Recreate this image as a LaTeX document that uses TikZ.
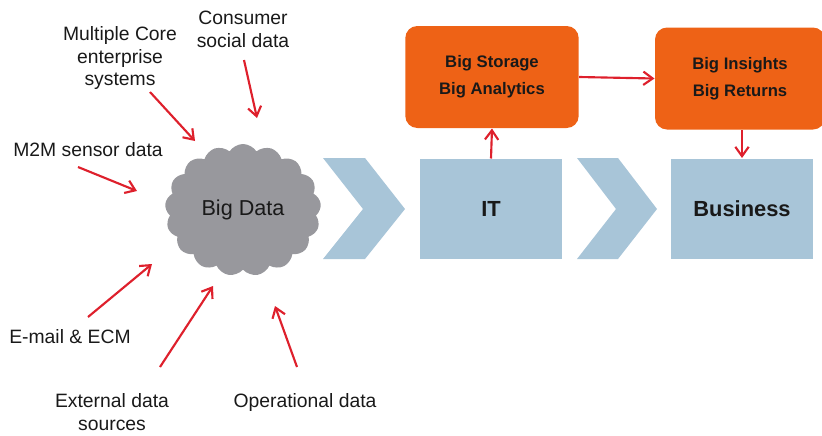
\documentclass[tikz,border=0pt]{standalone}
\usepackage{fontspec}
\setmainfont{Liberation Sans}
\usetikzlibrary{shapes.symbols,arrows.meta}

\definecolor{feedred}{RGB}{222,32,44}
\definecolor{boxorange}{RGB}{238,98,22}
\definecolor{stepblue}{RGB}{168,197,216}
\definecolor{cloudgray}{RGB}{152,152,157}
\definecolor{inkgray}{RGB}{25,25,25}

\tikzset{every picture/.style={line width=0.75pt}}
\tikzset{
  srclabel/.style={inner sep=0.75pt, align=center, text=inkgray, font=\fontsize{14.5}{17}\selectfont},
  feed/.style={draw=feedred, line width=1.6pt, -{Straight Barb[length=7pt,width=10pt]}},
  orangebox/.style={fill=boxorange, rounded corners=9pt, minimum width=130pt, minimum height=76.5pt,
    align=center, text=inkgray, font=\fontsize{12.5}{20}\selectfont\bfseries},
  stagebox/.style={fill=stepblue, minimum width=106.5pt, minimum height=75pt,
    text=inkgray, font=\fontsize{16.4}{19}\selectfont\bfseries},
}

\begin{document}
\begin{tikzpicture}[x=0.75pt,y=0.75pt,yscale=-1,xscale=1]
\useasboundingbox (0,0) rectangle (822,436);

%Cloud
\node [shape=cloud, fill=cloudgray, cloud puffs=17, cloud puff arc=115, aspect=1.15,
  minimum width=117pt, minimum height=99pt, inner sep=0pt, text=inkgray,
  font=\fontsize{16.2}{19}\selectfont] (bigdata) at (243,210) {Big Data};

%Chevrons
\fill [stepblue] (323,158) -- (365,158) -- (405,209) -- (365,259) -- (323,259) -- (363,209) -- cycle;
\fill [stepblue] (577,158) -- (618,158) -- (657,209) -- (618,259) -- (577,259) -- (616,209) -- cycle;

%Stage boxes
\node [stagebox] (it) at (491,209) {IT};
\node [stagebox] (business) at (742,208.5) {Business};

%Orange boxes
\node [orangebox] (storage) at (492,77) {Big Storage\\Big Analytics};
\node [orangebox, minimum width=127.5pt] (insights) at (740,78.5) {Big Insights\\Big Returns};

%Straight Lines
\draw [feed] (it.north) -- (storage.south);
\draw [feed] (storage.east) -- (insights.west);
\draw [feed] (insights.south -| business.north) -- (business.north);

% Text Node
\node [srclabel] (mcore) at (120,58) {Multiple Core\\enterprise\\systems};
% Text Node
\node [srclabel] (consumer) at (243,29.5) {Consumer\\social data};
% Text Node
\node [srclabel] (m2m) at (88,150) {M2M sensor data};
% Text Node
\node [srclabel] (email) at (70,337) {E-mail \& ECM};
% Text Node
\node [srclabel] (external) at (112,412) {External data\\sources};
% Text Node
\node [srclabel] (operational) at (305,402) {Operational data};

%Arrow ends
\coordinate (mcore-from) at (150,92);
\coordinate (mcore-to) at (195,141);
\coordinate (consumer-from) at (244,60);
\coordinate (consumer-to) at (257,118);
\coordinate (m2m-from) at (78,167);
\coordinate (m2m-to) at (137,191);
\coordinate (email-from) at (88,317);
\coordinate (email-to) at (152,264);
\coordinate (external-from) at (160,367);
\coordinate (external-to) at (213,286);
\coordinate (operational-from) at (297,367);
\coordinate (operational-to) at (275,306);

%Straight Lines
\foreach \src in {mcore,consumer,m2m,email,external,operational}
  \draw [feed] (\src-from) -- (\src-to);

\end{tikzpicture}
\end{document}
